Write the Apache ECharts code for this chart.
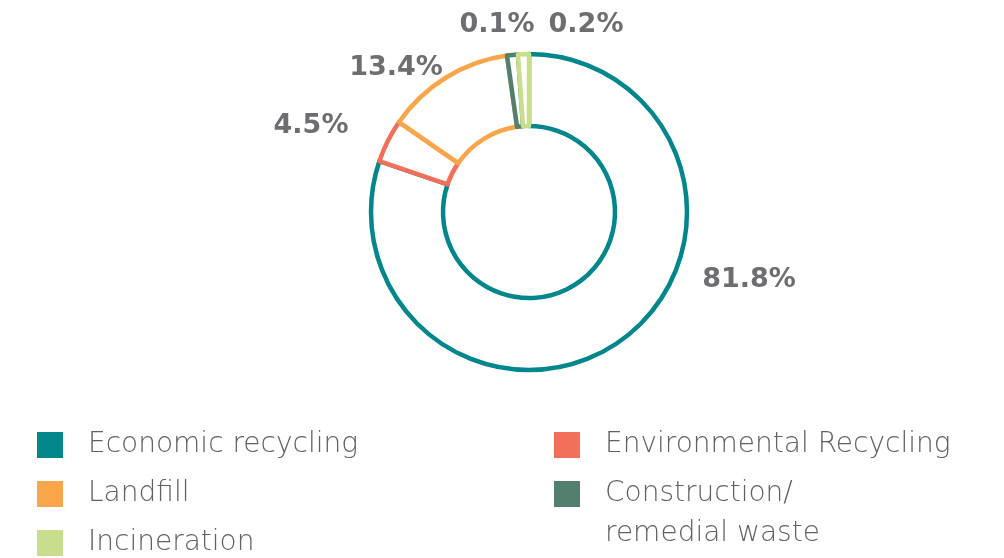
<!DOCTYPE html>
<html>
<head>
<meta charset="utf-8">
<script src="https://cdn.jsdelivr.net/npm/echarts@6/dist/echarts.min.js"></script>
<style>
  html, body { margin: 0; padding: 0; background: #fff; }
  #chart { width: 1004px; height: 558px; }
</style>
</head>
<body>
<div id="chart"></div>
<script>
const categories = ['Economic recycling', 'Environmental Recycling', 'Landfill', 'Construction/\nremedial waste', 'Incineration']
const shares = [81.8, 4.5, 13.4, 0.1, 0.2]
const colors = ['#00868b', '#f26f5a', '#f9a64a', '#537f6e', '#c8de8c']

// where each percentage label sits (label centre, px)
const labelPos = [[749, 280], [311, 126], [396, 68], [497, 25], [586, 25]]

const chart = echarts.init(document.getElementById('chart'))

const legendText = {
  fontFamily: 'DejaVu Sans',
  fontWeight: 200,
  fontSize: 28,
  color: '#606164',
  lineHeight: 30,
  padding: [0, 0, 0, 20],
}

const makeLegend = (left, top, names) => ({
  left, top, height: 220, width: 440, orient: 'vertical', padding: 0,
  itemWidth: 26, itemHeight: 26, itemGap: 19,
  icon: 'rect',
  textStyle: legendText,
  data: names.map(name => ({
    name,
    itemStyle: { color: colors[categories.indexOf(name)], borderWidth: 0 },
  })),
})

// two-line entry: an empty first line keeps the icon level with "Construction/"
const twoLine = makeLegend(554, 434, [categories[3]])
twoLine.textStyle = { ...legendText, lineHeight: 40 }
twoLine.formatter = name => '\n' + name

const option = {
  backgroundColor: '#fff',
  animation: false,
  legend: [
    makeLegend(37, 430, [categories[0], categories[2], categories[4]]),
    makeLegend(554, 430, [categories[1]]),
    twoLine,
  ],
  series: [
    {
      type: 'pie',
      center: [529, 212],
      radius: [86, 158],
      startAngle: 90,
      clockwise: true,
      minAngle: 4,
      itemStyle: { color: '#fff', borderWidth: 4.5 },
      label: {
        show: true,
        position: 'outside',
        formatter: p => p.value.toFixed(1) + '%',
        fontFamily: 'DejaVu Sans',
        fontWeight: 'bold',
        fontSize: 27,
        color: '#6d6e71',
      },
      labelLine: { show: false },
      labelLayout: p => ({
        x: labelPos[p.dataIndex][0],
        y: labelPos[p.dataIndex][1],
        align: 'center',
        verticalAlign: 'middle',
      }),
      emphasis: { disabled: true },
      data: categories.map((name, i) => ({
        name,
        value: shares[i],
        itemStyle: { color: '#fff', borderColor: colors[i] },
      })),
    },
  ],
}

chart.setOption(option)
</script>
</body>
</html>
